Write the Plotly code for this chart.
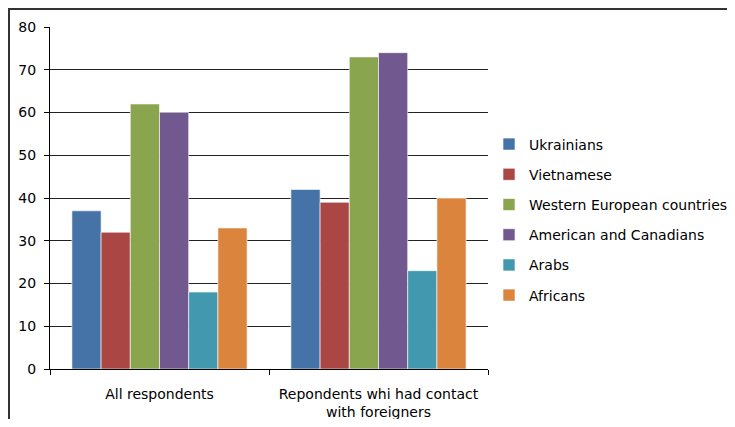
import plotly.graph_objects as go

categories = ["All respondents", "Repondents whi had contact<br>with foreigners"]

series_names = [
    "Ukrainians",
    "Vietnamese",
    "Western European countries",
    "American and Canadians",
    "Arabs",
    "Africans",
]

ukrainians = [37, 42]
vietnamese = [32, 39]
western = [62, 73]
american = [60, 74]
arabs = [18, 23]
africans = [33, 40]

colors = ["#4572A7", "#AA4643", "#89A54E", "#71588F", "#4198AF", "#DB843D"]

values = [ukrainians, vietnamese, western, american, arabs, africans]

fig = go.Figure()

for name, vals, color in zip(series_names, values, colors):
    fig.add_trace(
        go.Bar(
            x=categories,
            y=vals,
            name=name,
            legendgroup=name,
            marker=dict(color=color, line=dict(color="rgba(255,255,255,0.6)", width=1)),
        )
    )

# page has an 8px body margin, so the figure is a bit smaller than the window
fig.update_layout(
    width=719,
    height=411,
    margin=dict(l=42, r=239, t=19, b=50, autoexpand=False),
    paper_bgcolor="white",
    plot_bgcolor="white",
    barmode="group",
    bargap=0.2,
    bargroupgap=0,
    font=dict(family="DejaVu Sans", size=14, color="black"),
    legend=dict(
        xref="container",
        yref="container",
        x=0.669,
        xanchor="left",
        y=0.4842,
        yanchor="middle",
        tracegroupgap=9,
        font=dict(size=14),
        bgcolor="rgba(0,0,0,0)",
    ),
    showlegend=True,
)

fig.update_yaxes(
    range=[0, 80],
    dtick=10,
    showgrid=True,
    gridcolor="#222222",
    gridwidth=1,
    showline=True,
    linecolor="black",
    linewidth=1,
    ticks="outside",
    ticklen=5,
    tickcolor="black",
    zeroline=False,
    ticklabelstandoff=5,
    automargin=False,
)

fig.update_xaxes(
    showline=True,
    linecolor="black",
    linewidth=1,
    ticks="outside",
    tickson="boundaries",
    ticklen=5,
    tickcolor="black",
    ticklabelstandoff=12,
    automargin=False,
)

# chart border (left and top edges visible, rest cut off)
fig.add_shape(
    type="rect",
    xref="paper",
    yref="paper",
    x0=-0.0936,
    x1=1.7,
    y0=-0.2,
    y1=1.0526,
    line=dict(color="#333333", width=2),
    fillcolor="rgba(0,0,0,0)",
    layer="below",
)

fig.write_html("out.html")
